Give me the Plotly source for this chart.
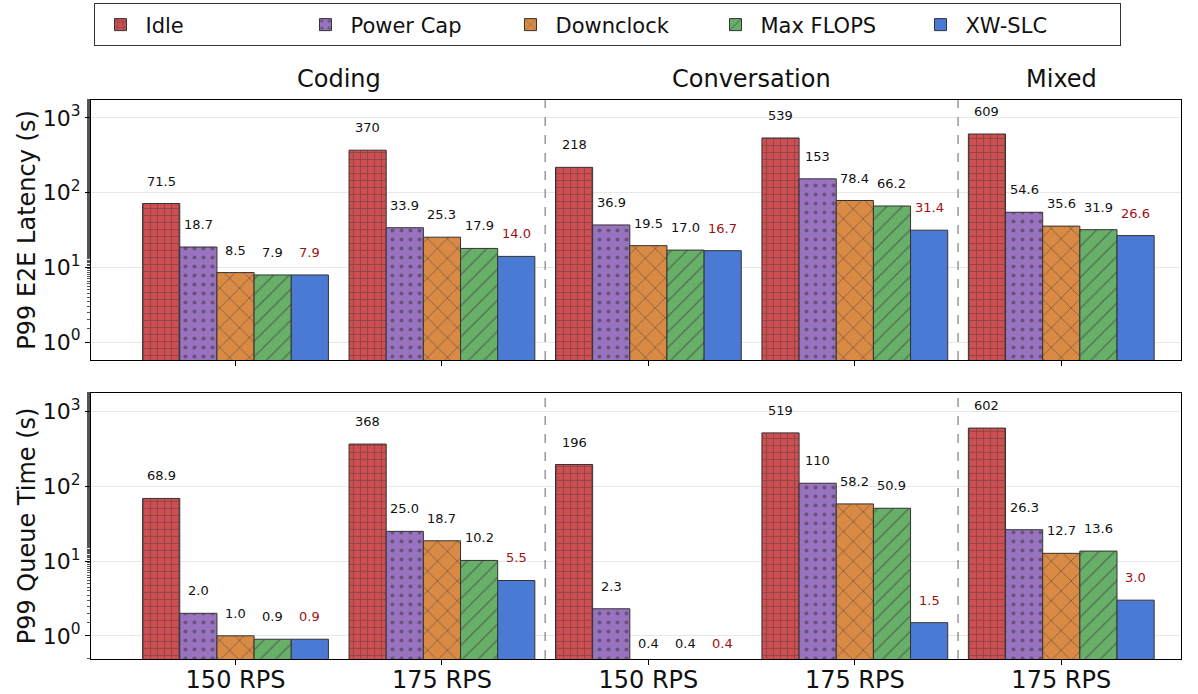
import math
import plotly.graph_objects as go
from plotly.subplots import make_subplots

groups = ["150 RPS", "175 RPS", "150 RPS", "175 RPS", "175 RPS"]
sections = ["Coding", "Conversation", "Mixed"]
section_pos = [0.5, 2.5, 4.0]
methods = ["Idle", "Power Cap", "Downclock", "Max FLOPS", "XW-SLC"]
ytick_vals = [1, 10, 100, 1000]
ytick_text = ["10<sup>0</sup>", "10<sup>1</sup>", "10<sup>2</sup>", "10<sup>3</sup>"]

e2e_idle = [71.5, 370, 218, 539, 609]
e2e_powercap = [18.7, 33.9, 36.9, 153, 54.6]
e2e_downclock = [8.5, 25.3, 19.5, 78.4, 35.6]
e2e_maxflops = [7.9, 17.9, 17.0, 66.2, 31.9]
e2e_xwslc = [7.9, 14.0, 16.7, 31.4, 26.6]

queue_idle = [68.9, 368, 196, 519, 602]
queue_powercap = [2.0, 25.0, 2.3, 110, 26.3]
queue_downclock = [1.0, 18.7, 0.4, 58.2, 12.7]
queue_maxflops = [0.9, 10.2, 0.4, 50.9, 13.6]
queue_xwslc = [0.9, 5.5, 0.4, 1.5, 3.0]

e2e = [e2e_idle, e2e_powercap, e2e_downclock, e2e_maxflops, e2e_xwslc]
queue = [queue_idle, queue_powercap, queue_downclock, queue_maxflops, queue_xwslc]

colors = ["#CD4F52", "#9A73C0", "#D98A45", "#68AF6A", "#4A7AD3"]
shapes_pat = ["+", ".", "x", "/", ""]
pat_size = [7, 9, 14, 11, 8]
pat_sol = [0.2, 0.16, 0.12, 0.12, 0.2]
FONT = "DejaVu Sans"
ranges = [[-0.24, 3.24], [-0.31, 3.25]]

fig = make_subplots(rows=2, cols=1, shared_xaxes=False, vertical_spacing=0.06)

xs = list(range(len(groups)))
for r, data in enumerate([e2e, queue], start=1):
    for i, m in enumerate(methods):
        fig.add_trace(go.Bar(
            x=xs, y=data[i], name=m, showlegend=(r == 1),
            legendgroup=m,
            marker=dict(color=colors[i], line=dict(color="#333333", width=1),
                        pattern=dict(shape=shapes_pat[i], fgcolor="#333333",
                                     size=pat_size[i], solidity=pat_sol[i])),
            width=0.18,
        ), row=r, col=1)

def fmt(v):
    return f"{v:.0f}" if v >= 100 else f"{v:.1f}"

annos = []
for r, data in enumerate([e2e, queue], start=1):
    yref = "y domain" if r == 1 else "y2 domain"
    xref = "x" if r == 1 else "x2"
    lo, hi = ranges[r - 1]
    for i in range(len(methods)):
        for g in xs:
            v = data[i][g]
            frac = (math.log10(v) - lo) / (hi - lo)
            annos.append(dict(x=g + (i - 2) * 0.18, y=frac, xref=xref, yref=yref,
                              text=fmt(v), showarrow=False, yanchor="bottom", yshift=13,
                              font=dict(size=13, color="#A01010" if i == 4 else "#111111", family=FONT)))
for s, p in zip(sections, section_pos):
    annos.append(dict(x=p, y=1.0, xref="x", yref="paper", yanchor="bottom", yshift=5,
                      text=s, showarrow=False, font=dict(size=24, color="#111111", family=FONT)))
fig.update_layout(annotations=annos)

shapes = []
for xv in [1.5, 3.5]:
    for xr, yr in [("x", "y domain"), ("x2", "y2 domain")]:
        shapes.append(dict(type="line", x0=xv, x1=xv, y0=0, y1=1, xref=xr, yref=yr,
                           line=dict(color="#888888", width=1.3, dash="dash")))
fig.update_layout(shapes=shapes)

common_x = dict(range=[-0.7, 4.58], tickvals=xs, showline=True, linecolor="black", mirror=True,
                ticks="outside", ticklen=5, tickcolor="black", showgrid=False, zeroline=False,
                automargin=False)
fig.update_xaxes(**common_x, showticklabels=False, row=1, col=1)
fig.update_xaxes(**common_x, ticktext=groups, ticklabelstandoff=-6,
                 tickfont=dict(size=24, color="#111111", family=FONT), row=2, col=1)

common_y = dict(type="log", tickvals=ytick_vals, ticktext=ytick_text, showline=True, linecolor="black", mirror=True,
                ticks="outside", ticklen=5, tickcolor="black", showgrid=True, gridcolor="#e8e8e8",
                tickfont=dict(size=22, color="#111111", family=FONT), zeroline=False, automargin=False,
                minor=dict(ticks="outside", ticklen=3, tickcolor="#555555", showgrid=False))
fig.update_yaxes(**common_y, range=ranges[0], title=dict(text="P99 E2E Latency (s)", font=dict(size=24, color="#111111", family=FONT), standoff=0), row=1, col=1)
fig.update_yaxes(**common_y, range=ranges[1], title=dict(text="P99 Queue Time (s)", font=dict(size=24, color="#111111", family=FONT), standoff=0), row=2, col=1)

fig.update_layout(
    width=1198, height=694,
    margin=dict(l=91, r=17, t=100, b=35),
    plot_bgcolor="white", paper_bgcolor="white",
    barmode="group", bargap=0.1, bargroupgap=0,
    font=dict(family=FONT, color="#111111"),
    legend=dict(orientation="h", x=0.5075, xanchor="center", xref="container",
                y=0.995, yanchor="top", yref="container",
                bordercolor="#333333", borderwidth=1, font=dict(size=21, family=FONT),
                itemwidth=40, entrywidth=150, entrywidthmode="pixels", traceorder="normal"),
)
fig.layout.yaxis.domain = [0.535, 1.0]
fig.layout.yaxis2.domain = [0.0, 0.476]

fig.write_html("out.html", config={"displayModeBar": False},
               post_script="document.body.style.margin='0';document.body.style.padding='0';")
